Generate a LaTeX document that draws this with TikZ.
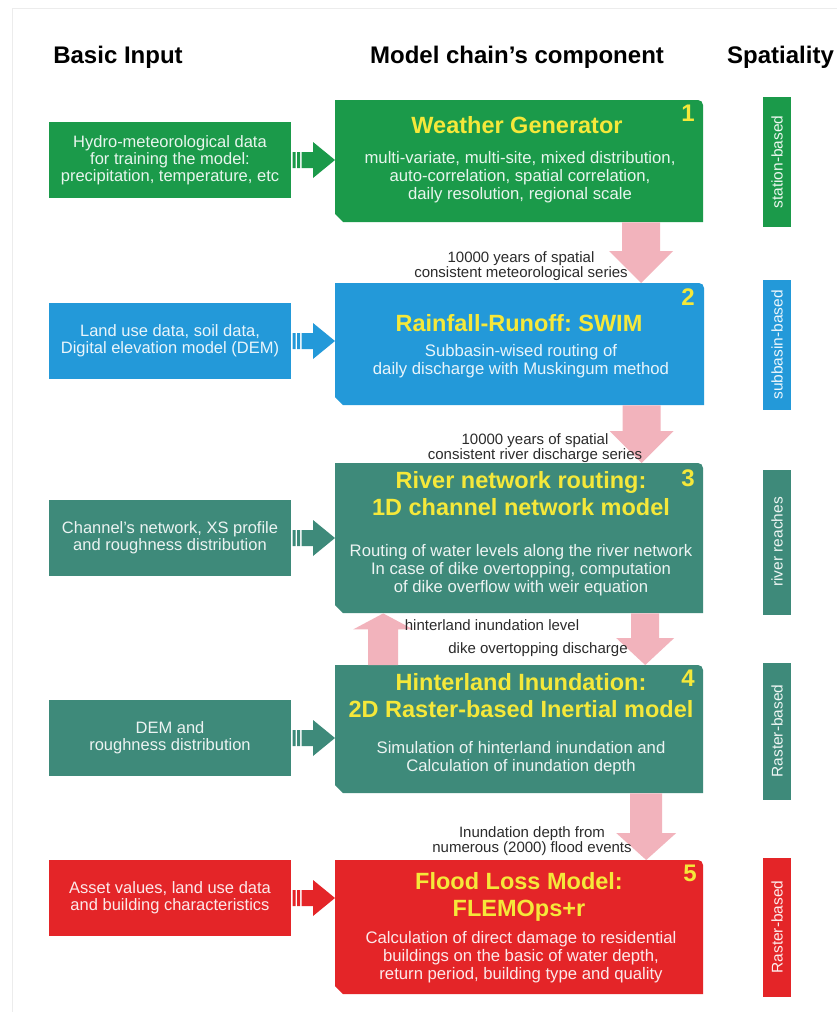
\documentclass[tikz,border=0pt]{standalone}
\usepackage{fontspec}
\setmainfont{Liberation Sans}
\usetikzlibrary{calc}
\frenchspacing
\definecolor{wgGreen}{HTML}{1B9A4A}
\definecolor{rrBlue}{HTML}{2399D9}
\definecolor{rvTeal}{HTML}{3E8A7A}
\definecolor{flRed}{HTML}{E42528}
\definecolor{flowPink}{HTML}{F2B3BC}
\definecolor{titleYellow}{HTML}{F5E83A}
\definecolor{labelGray}{HTML}{2B2B2B}
\definecolor{frameGray}{HTML}{ECECEC}
\tikzset{
  hdr/.style={font=\bfseries\fontsize{24}{28}\selectfont, text=black, inner sep=0},
  inbox/.style={fill=#1, text=white!90!#1, align=center, inner sep=0,
    minimum width=242pt, minimum height=76pt,
    font=\fontsize{16.5}{17}\selectfont},
  ttl/.style={text=titleYellow, align=center, inner sep=0,
    font=\bfseries\fontsize{23.5}{27}\selectfont},
  body/.style={text=white!90!#1, align=center, inner sep=0,
    font=\fontsize{16.7}{17.8}\selectfont},
  num/.style={text=titleYellow, inner sep=0, font=\bfseries\fontsize{24}{24}\selectfont},
  lbl/.style={text=labelGray, align=center, inner sep=0,
    font=\fontsize{15}{15.5}\selectfont},
  spbox/.style={fill=#1, text=white!92!#1, inner sep=0, rotate=90,
    font=\fontsize{15.5}{16}\selectfont},
}
% chain component: name, colour, x1, y1, x2, y2 (y grows downwards)
\newcommand\chainbox[6]{%
  \fill[#2] (#3,#4) -- (#5-5,#4) arc[start angle=90, end angle=0, radius=5pt]
    -- (#5,#6) -- (#3+8,#6) -- (#3,#6-8) -- cycle;
  \node[inner sep=0, minimum width=#5pt-#3pt, minimum height=#6pt-#4pt,
    anchor=north west] (#1) at (#3,#4) {};}
% striped feed arrow from an input box to its chain component
\newcommand\feedarrow[3]{%
  \fill[#3] let \p1=(#1.east), \p2=(#2.west) in
    (\x1+1.5pt,\y1+8pt) rectangle (\x1+4.5pt,\y1-8pt)
    (\x1+6pt,\y1+8pt) rectangle (\x1+9pt,\y1-8pt)
    (\x1+10.5pt,\y1+8pt) -- (\x2-22pt,\y1+8pt) -- (\x2-22pt,\y1+18pt)
    -- (\x2,\y1) -- (\x2-22pt,\y1-18pt) -- (\x2-22pt,\y1-8pt)
    -- (\x1+10.5pt,\y1-8pt) -- cycle;}
% pink block arrow between two components: from, to, x offset, shaft half, head half, head length
\newcommand\flowdown[6]{%
  \fill[flowPink] let \p1=(#1.south), \p2=(#2.north) in
    (\x1+#3pt-#4pt,\y1) -- (\x1+#3pt+#4pt,\y1) -- (\x1+#3pt+#4pt,\y2+#6pt)
    -- (\x1+#3pt+#5pt,\y2+#6pt) -- (\x1+#3pt,\y2) -- (\x1+#3pt-#5pt,\y2+#6pt)
    -- (\x1+#3pt-#4pt,\y2+#6pt) -- cycle;}
\newcommand\flowup[6]{%
  \fill[flowPink] let \p1=(#1.north), \p2=(#2.south) in
    (\x1+#3pt-#4pt,\y1) -- (\x1+#3pt+#4pt,\y1) -- (\x1+#3pt+#4pt,\y2-#6pt)
    -- (\x1+#3pt+#5pt,\y2-#6pt) -- (\x1+#3pt,\y2) -- (\x1+#3pt-#5pt,\y2-#6pt)
    -- (\x1+#3pt-#4pt,\y2-#6pt) -- cycle;}
\begin{document}
\begin{tikzpicture}[x=1pt,y=-1pt]
\useasboundingbox (0,0) rectangle (837,1012);
\fill[white] (0,0) rectangle (837,1012);
\draw[frameGray, line width=1pt] (12,1012) -- (12,8) -- (837,8);

% column headers
\node[hdr] (h1) at (118,57) {Basic Input};
\node[hdr] (h2) at (517,57) {Model chain’s component};
\node[hdr, anchor=west] (h3) at (727,57) {Spatiality};

% chain components
\chainbox{m1}{wgGreen}{335}{100}{703}{222}
\chainbox{m2}{rrBlue}{335}{283}{704}{405}
\chainbox{m3}{rvTeal}{335}{463}{703}{613}
\chainbox{m4}{rvTeal}{335}{665}{703}{793}
\chainbox{m5}{flRed}{335}{860}{703}{994}

\node[ttl] (t1) at (517,125) {Weather Generator};
\node[body=wgGreen] (b1) at (520,177) {multi-variate, multi-site, mixed distribution,\\auto-correlation, spatial correlation,\\daily resolution, regional scale};
\node[num] (n1) at (688,113) {1};

\node[ttl] (t2) at (519,323) {Rainfall-Runoff: SWIM};
\node[body=rrBlue] (b2) at (521,361) {Subbasin-wised routing of\\daily discharge with Muskingum method};
\node[num] (n2) at (688,297) {2};

\node[ttl] (t3) at (521,494) {River network routing:\\1D channel network model};
\node[body=rvTeal] (b3) at (521,570) {Routing of water levels along the river network\\In case of dike overtopping, computation\\of dike overflow with weir equation};
\node[num] (n3) at (688,478) {3};

\node[ttl] (t4) at (521,696) {Hinterland Inundation:\\2D Raster-based Inertial model};
\node[body=rvTeal] (b4) at (521,758) {Simulation of hinterland inundation and\\Calculation of inundation depth};
\node[num] (n4) at (688,678) {4};

\node[ttl] (t5) at (519,897) {Flood Loss Model:\\FLEMOps+r};
\node[body=flRed] (b5) at (521,957) {Calculation of direct damage to residential\\buildings on the basic of water depth,\\return period, building type and quality};
\node[num] (n5) at (690,873) {5};

% basic inputs
\node[inbox=wgGreen] (in1) at (170,160) {Hydro-meteorological data\\for training the model:\\precipitation, temperature, etc};
\node[inbox=rrBlue] (in2) at (170,341) {Land use data, soil data,\\Digital elevation model (DEM)};
\node[inbox=rvTeal] (in3) at (170,538) {Channel’s network, XS profile\\and roughness distribution};
\node[inbox=rvTeal] (in4) at (170,738) {DEM and\\roughness distribution};
\node[inbox=flRed] (in5) at (170,898) {Asset values, land use data\\and building characteristics};

\feedarrow{in1}{m1}{wgGreen}
\feedarrow{in2}{m2}{rrBlue}
\feedarrow{in3}{m3}{rvTeal}
\feedarrow{in4}{m4}{rvTeal}
\feedarrow{in5}{m5}{flRed}

% flows along the chain
\flowdown{m1}{m2}{122}{19}{32}{32}
\flowdown{m2}{m3}{122}{19}{32}{32}
\flowdown{m3}{m4}{126}{14}{29}{27}
\flowup{m4}{m3}{-136}{15}{30}{16}
\flowdown{m4}{m5}{127}{16}{30}{27}

\node[lbl] (l1) at (521,266) {10000 years of spatial\\consistent meteorological series};
\node[lbl] (l2) at (535,448) {10000 years of spatial\\consistent river discharge series};
\node[lbl] (l3) at (492,625) {hinterland inundation level};
\node[lbl] (l4) at (538,650) {dike overtopping discharge};
\node[lbl] (l5) at (532,841) {Inundation depth from\\numerous (2000) flood events};

% spatiality
\node[spbox=wgGreen, minimum width=130pt, minimum height=28pt] (s1) at (777,162) {station-based};
\node[spbox=rrBlue, minimum width=130pt, minimum height=28pt] (s2) at (777,345) {subbasin-based};
\node[spbox=rvTeal, minimum width=145pt, minimum height=28pt] (s3) at (777,542) {river reaches};
\node[spbox=rvTeal, minimum width=137pt, minimum height=28pt] (s4) at (777,731) {Raster-based};
\node[spbox=flRed, minimum width=139pt, minimum height=28pt] (s5) at (777,927) {Raster-based};
\end{tikzpicture}
\end{document}
